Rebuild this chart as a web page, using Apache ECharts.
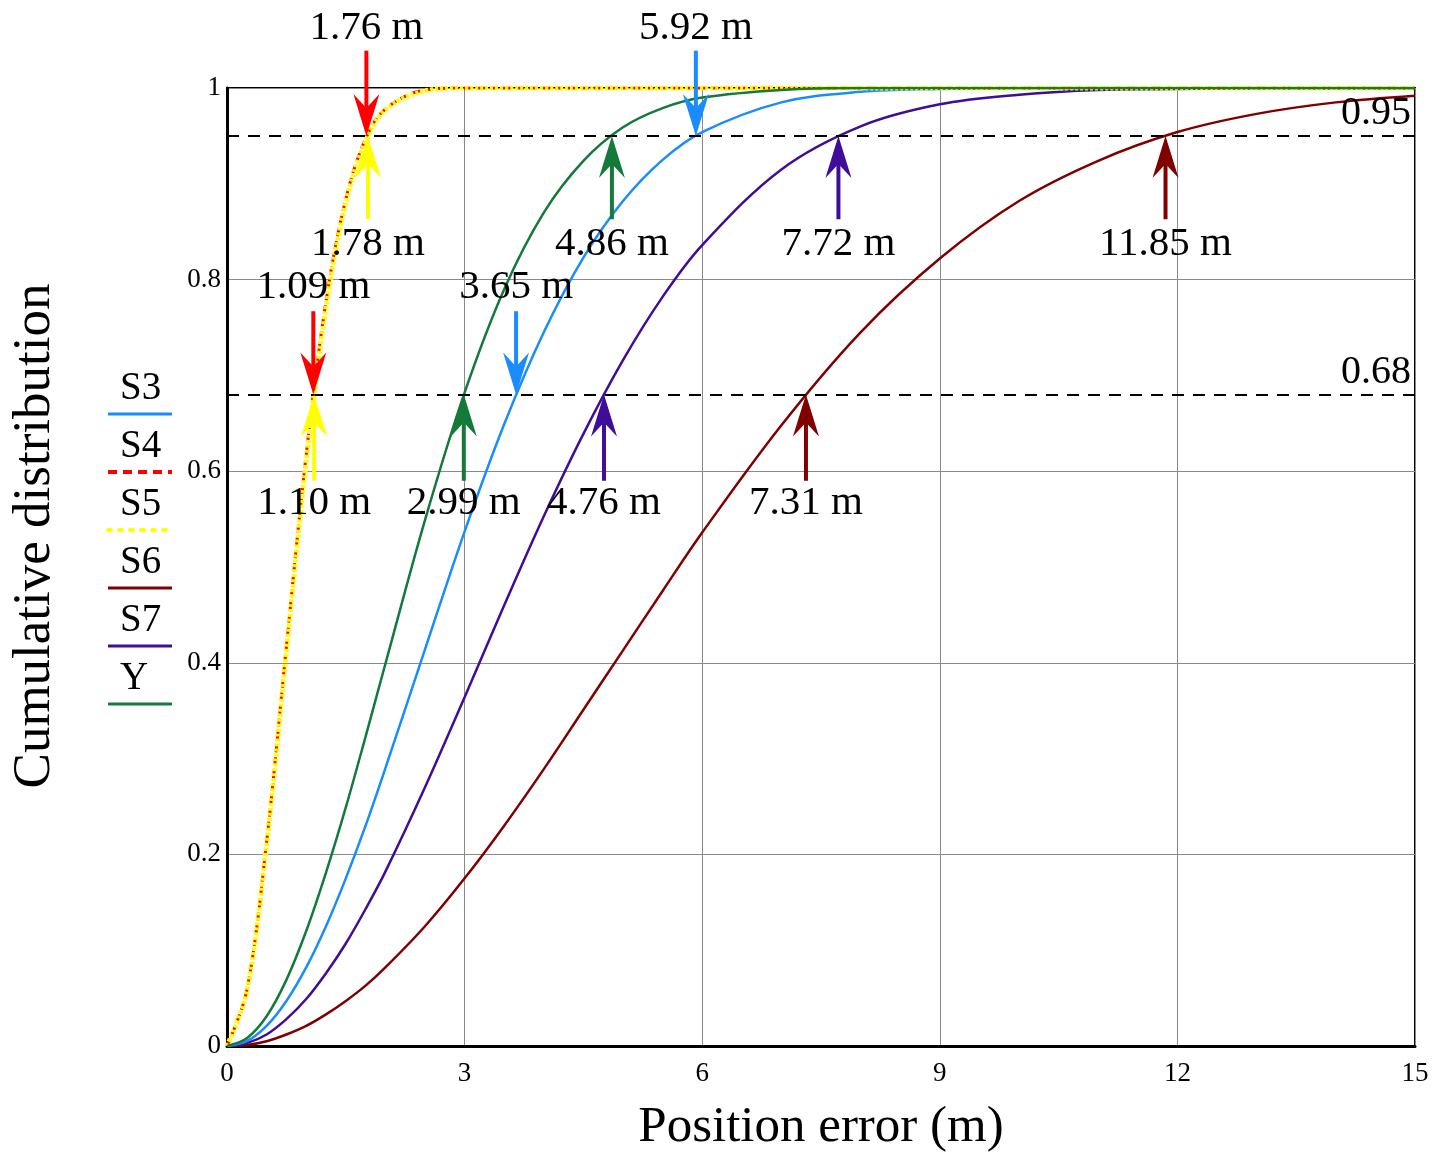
<!DOCTYPE html>
<html lang="en">
<head>
<meta charset="UTF-8">
<title>Cumulative distribution of position error</title>
<script src="https://cdn.jsdelivr.net/npm/echarts@6/dist/echarts.min.js"></script>
<style>
  html, body, #container { width: 100%; height: 100%; margin: 0; padding: 0; overflow: hidden; background: #fff; }
</style>
</head>
<body>
<div id="container"></div>
<script>
// position error (m) where the curves were read
var xs = [0, 0.25, 0.5, 0.75, 1, 1.25, 1.5, 1.75, 2, 2.5, 3, 3.5, 4, 4.5, 5, 5.5, 6, 7, 8, 9, 10, 11, 12, 13, 14, 15];

var S3 = [0, 0.005, 0.021, 0.047, 0.082, 0.125, 0.175, 0.230, 0.290, 0.414, 0.537, 0.649, 0.745, 0.823, 0.882, 0.925, 0.954, 0.985, 0.996, 0.999, 1, 1, 1, 1, 1, 1];
var S4 = [0, 0.058, 0.213, 0.417, 0.617, 0.777, 0.884, 0.947, 0.978, 0.998, 1, 1, 1, 1, 1, 1, 1, 1, 1, 1, 1, 1, 1, 1, 1, 1];
var S5 = [0, 0.057, 0.210, 0.411, 0.610, 0.770, 0.880, 0.944, 0.977, 0.997, 1, 1, 1, 1, 1, 1, 1, 1, 1, 1, 1, 1, 1, 1, 1, 1];
var S6 = [0, 0.001, 0.005, 0.012, 0.021, 0.033, 0.047, 0.063, 0.082, 0.125, 0.175, 0.230, 0.289, 0.351, 0.413, 0.475, 0.536, 0.648, 0.745, 0.822, 0.882, 0.924, 0.954, 0.973, 0.985, 0.992];
var S7 = [0, 0.003, 0.012, 0.028, 0.049, 0.076, 0.107, 0.143, 0.182, 0.270, 0.364, 0.460, 0.553, 0.639, 0.716, 0.782, 0.836, 0.915, 0.960, 0.983, 0.993, 0.998, 0.999, 1, 1, 1];
var Y  = [0, 0.008, 0.031, 0.069, 0.120, 0.181, 0.249, 0.323, 0.399, 0.549, 0.682, 0.790, 0.870, 0.924, 0.959, 0.979, 0.990, 0.998, 1, 1, 1, 1, 1, 1, 1, 1];

var legendNames = ['S3', 'S4', 'S5', 'S6', 'S7', 'Y'];
var colors = { S3: '#1a8cff', S4: '#ff0000', S5: '#ffff00', S6: '#800000', S7: '#3f0d99', Y: '#137a3a' };

// reference levels
var levels = [0.95, 0.68];

// arrow annotations: error value, arrow tail, arrow tip, label height, series
var annoX    = [1.76, 5.92, 1.78, 4.86, 7.72, 11.85, 1.09, 3.65, 1.10, 2.99, 4.76, 7.31];
var annoFrom = [1.039, 1.039, 0.863, 0.863, 0.863, 0.863, 0.767, 0.767, 0.590, 0.590, 0.590, 0.590];
var annoTo   = [0.95, 0.95, 0.95, 0.95, 0.95, 0.95, 0.68, 0.68, 0.68, 0.68, 0.68, 0.68];
var annoText = [1.062, 1.062, 0.837, 0.837, 0.837, 0.837, 0.792, 0.792, 0.567, 0.567, 0.567, 0.567];
var annoSeries = ['S4', 'S3', 'S5', 'Y', 'S7', 'S6', 'S4', 'S3', 'S5', 'Y', 'S7', 'S6'];

var SERIF = '"Liberation Serif", "DejaVu Serif", serif';

function pairs(vals) {
  return xs.map(function (x, i) { return [x, vals[i]]; });
}

function curve(name, vals, style) {
  return {
    name: name,
    type: 'line',
    data: pairs(vals),
    smooth: 0.35,
    symbol: 'none',
    lineStyle: Object.assign({ color: colors[name], width: 2.5 }, style || {}),
    z: 3
  };
}

var annoData = annoX.map(function (x, i) {
  return [x, annoFrom[i], annoTo[i], annoText[i], i];
});

// legend drawn as text over a line sample
var legendGraphics = [];
legendNames.forEach(function (n, i) {
  var top = 392 + i * 58;
  legendGraphics.push({
    type: 'text', left: 140 - 20, top: top - 23,
    style: { text: n, font: '39px ' + SERIF, fill: '#000', width: 40, align: 'center' }
  });
  var ls = { stroke: colors[n], lineWidth: 3 };
  if (n === 'S4') { ls.lineDash = [9, 6]; ls.lineWidth = 4; }
  if (n === 'S5') { ls.lineDash = [3, 8]; ls.lineWidth = 4; ls.lineCap = 'round'; }
  legendGraphics.push({
    type: 'line', shape: { x1: 108, y1: top + 22, x2: 172, y2: top + 22 }, style: ls
  });
});

var chart = echarts.init(document.getElementById('container'), null, { renderer: 'canvas' });
chart.setOption({
  animation: false,
  backgroundColor: '#fff',
  grid: { left: 227, right: 39, top: 88, bottom: 102, show: true, borderColor: '#000', borderWidth: 2 },
  xAxis: {
    type: 'value', min: 0, max: 15, interval: 3,
    name: 'Position error (m)', nameLocation: 'middle', nameGap: 56,
    nameTextStyle: { fontFamily: SERIF, fontSize: 51, color: '#000' },
    axisLine: { show: true, lineStyle: { color: '#000', width: 3 } },
    axisTick: { show: false },
    axisLabel: { fontFamily: SERIF, fontSize: 27, color: '#000', margin: 14 },
    splitLine: { show: true, lineStyle: { color: '#8a8a8a', width: 1 } }
  },
  yAxis: {
    type: 'value', min: 0, max: 1, interval: 0.2,
    name: 'Cumulative distribution', nameLocation: 'middle', nameGap: 165,
    nameTextStyle: { fontFamily: SERIF, fontSize: 53, color: '#000', padding: [0, 0, 0, 62] },
    axisLine: { show: true, lineStyle: { color: '#000', width: 3 } },
    axisTick: { show: false },
    axisLabel: { fontFamily: SERIF, fontSize: 27, color: '#000', margin: 6 },
    splitLine: { show: true, lineStyle: { color: '#8a8a8a', width: 1 } }
  },
  graphic: legendGraphics,
  series: [
    Object.assign(curve('S6', S6), {
      markLine: {
        silent: true,
        symbol: 'none',
        lineStyle: { color: '#000', width: 2, type: [12, 9] },
        label: {
          position: 'insideEndTop', formatter: '{c}', distance: [4, 2],
          fontFamily: SERIF, fontSize: 40, color: '#000'
        },
        data: levels.map(function (v) { return { yAxis: v }; })
      }
    }),
    curve('S7', S7),
    curve('S3', S3),
    curve('S4', S4, { width: 3, type: [8, 5] }),
    curve('S5', S5, { width: 5, type: [3, 2] }),
    curve('Y', Y),
    {
      name: 'arrows',
      type: 'custom',
      clip: false,
      z: 10,
      data: annoData,
      renderItem: function (params, api) {
        var x = api.value(0);
        var idx = api.value(4);
        var tail = api.coord([x, api.value(1)]);
        var tip = api.coord([x, api.value(2)]);
        var lab = api.coord([x, api.value(3)]);
        var c = colors[annoSeries[idx]];
        var dir = tip[1] > tail[1] ? 1 : -1;
        var hl = 42, hw = 13, notch = 28;
        return {
          type: 'group',
          children: [
            { type: 'line', shape: { x1: tail[0], y1: tail[1], x2: tip[0], y2: tip[1] - dir * notch },
              style: { stroke: c, lineWidth: 4 } },
            { type: 'polygon', shape: { points: [
                [tip[0], tip[1]],
                [tip[0] - hw, tip[1] - dir * hl],
                [tip[0], tip[1] - dir * notch],
                [tip[0] + hw, tip[1] - dir * hl]
              ] }, style: { fill: c } },
            { type: 'text', style: {
                text: annoX[idx].toFixed(2) + ' m', x: lab[0], y: lab[1],
                align: 'center', verticalAlign: 'middle',
                font: '41px ' + SERIF, fill: '#000'
              } }
          ]
        };
      }
    }
  ]
});
</script>
</body>
</html>
